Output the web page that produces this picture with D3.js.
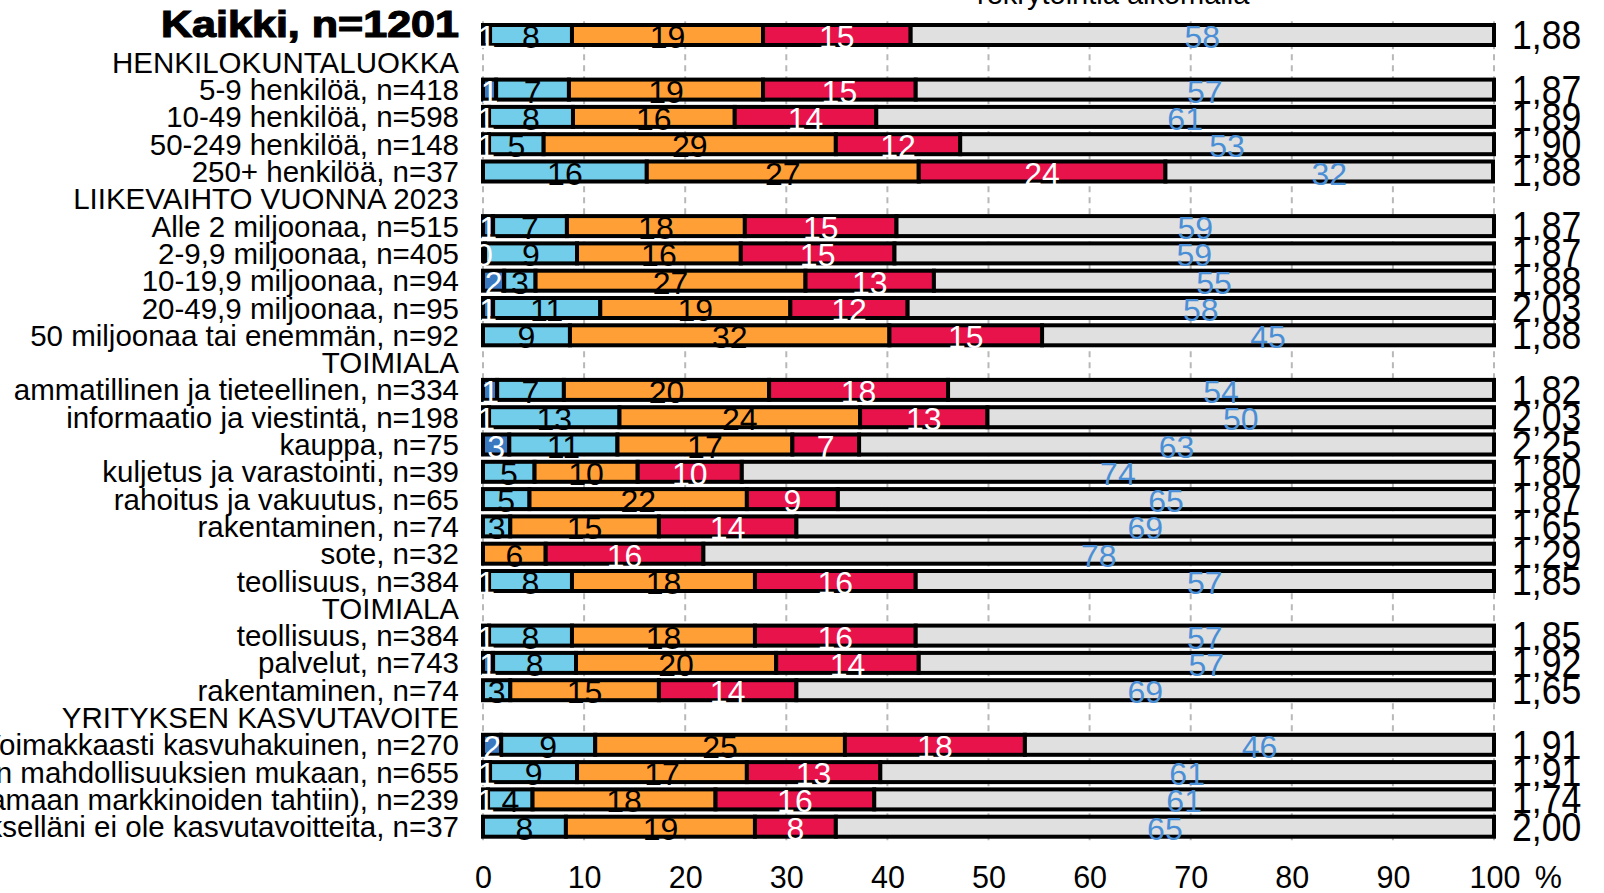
<!DOCTYPE html>
<html><head><meta charset="utf-8">
<script src="https://cdn.jsdelivr.net/npm/d3@7"></script>
<style>body{margin:0;background:#fff;overflow:hidden}svg{display:block}</style>
</head><body>
<svg id="c" width="1604" height="893"></svg>
<script>
// ---------- DATA ----------
const rowLabels = [
  "Kaikki, n=1201",
  "HENKILOKUNTALUOKKA",
  "5-9 henkilöä, n=418",
  "10-49 henkilöä, n=598",
  "50-249 henkilöä, n=148",
  "250+ henkilöä, n=37",
  "LIIKEVAIHTO VUONNA 2023",
  "Alle 2 miljoonaa, n=515",
  "2-9,9 miljoonaa, n=405",
  "10-19,9 miljoonaa, n=94",
  "20-49,9 miljoonaa, n=95",
  "50 miljoonaa tai enemmän, n=92",
  "TOIMIALA",
  "ammatillinen ja tieteellinen, n=334",
  "informaatio ja viestintä, n=198",
  "kauppa, n=75",
  "kuljetus ja varastointi, n=39",
  "rahoitus ja vakuutus, n=65",
  "rakentaminen, n=74",
  "sote, n=32",
  "teollisuus, n=384",
  "TOIMIALA",
  "teollisuus, n=384",
  "palvelut, n=743",
  "rakentaminen, n=74",
  "YRITYKSEN KASVUTAVOITE",
  "Voimakkaasti kasvuhakuinen, n=270",
  "Kasvuhakuinen mahdollisuuksien mukaan, n=655",
  "Maltillinen (kasvamaan markkinoiden tahtiin), n=239",
  "Yritykselläni ei ole kasvutavoitteita, n=37"
];
// "total" = bold first row, "header" = group heading without bar, "row" = normal
const rowTypes = ["total","header","row","row","row","row","header","row","row","row","row","row",
  "header","row","row","row","row","row","row","row","row","header","row","row","row",
  "header","row","row","row","row"];

// series values (%), null = no segment
const seriesDarkBlue  = [0.7,null,1.3,0.6,0.6,null,null,1.0,0.2,2.1,1.0,null,null,1.4,0.6,2.6,null,null,null,null,0.6,null,0.6,1.0,null,null,1.8,0.7,0.5,null];
const seriesLightBlue = [8.1,null,7.2,8.3,5.4,16.2,null,7.3,9.1,3.1,10.6,8.6,null,6.6,12.9,10.7,5.1,4.6,2.7,null,8.2,null,8.2,8.2,2.7,null,9.3,8.6,4.4,8.2];
const seriesOrange    = [18.9,null,19.2,16.0,28.9,26.9,null,17.6,16.2,26.7,18.8,31.6,null,20.3,23.8,17.3,10.2,21.5,14.7,6.2,18.1,null,18.1,19.8,14.7,null,24.7,16.8,18.1,18.7];
const seriesRed       = [14.6,null,15.1,14.0,12.3,24.4,null,15.0,15.2,12.7,11.6,15.1,null,17.7,12.6,6.6,10.3,9.0,13.6,15.6,15.9,null,15.9,14.1,13.6,null,17.8,13.2,15.7,8.0];
const seriesGray      = [57.7,null,57.2,61.1,52.8,32.4,null,59.1,59.3,55.4,58.0,44.7,null,54.0,50.1,62.8,74.4,64.9,69.0,78.2,57.2,null,57.2,56.9,69.0,null,46.4,60.7,61.3,65.1];

const meanLabels = ["1,88",null,"1,87","1,89","1,90","1,88",null,"1,87","1,87","1,88","2,03","1,88",null,
  "1,82","2,03","2,25","1,80","1,87","1,65","1,29","1,85",null,"1,85","1,92","1,65",null,"1,91","1,91","1,74","2,00"];

const xTicks = [0,10,20,30,40,50,60,70,80,90,100];
const topTitle = "rekrytointia aikomalla";

// ---------- STYLE ----------
const seriesList = [seriesDarkBlue, seriesLightBlue, seriesOrange, seriesRed, seriesGray];
const fills = ["#3a78bf","#72cdea","#ff9f35","#e8134b","#e0e0e0"];
const textFills = ["#ffffff","#000000","#000000","#ffffff","#4a8fd6"];
const FONT = "'Liberation Sans', Arial, sans-serif";

const svg = d3.select("#c");
const x = d3.scaleLinear().domain([0,100]).range([483,1494]);
const y = d3.scaleBand().domain(d3.range(rowLabels.length)).range([21.35, 840.35]).paddingInner(0).paddingOuter(0);
const barH = 20;
const cy = i => y(i) + y.bandwidth()/2;

// top (cut) title
svg.append("text").attr("x", 977).attr("y", 4).attr("font-family", FONT).attr("font-size", 29)
  .attr("fill","#000").text(topTitle);

// gridlines
svg.append("g").selectAll("line").data(xTicks).join("line")
  .attr("x1", d=>x(d)).attr("x2", d=>x(d))
  .attr("y1", y.range()[0]).attr("y2", y.range()[1])
  .attr("stroke","#b8b8b8").attr("stroke-width",2).attr("stroke-dasharray","6,5");

// bars
const rows = d3.range(rowLabels.length).filter(i => rowTypes[i] !== "header");
rows.forEach(i => {
  let acc = 0;
  const segs = [];
  seriesList.forEach((s,k) => {
    const v = s[i];
    if (v === null || v === undefined) return;
    segs.push({k, x0: acc, x1: acc + v, v});
    acc += v;
  });
  const g = svg.append("g");
  g.selectAll("rect").data(segs).join("rect")
    .attr("x", d => x(d.x0)).attr("width", d => x(d.x1) - x(d.x0))
    .attr("y", cy(i) - barH/2).attr("height", barH)
    .attr("fill", d => fills[d.k]).attr("stroke","#000").attr("stroke-width",4);
  g.selectAll("text").data(segs).join("text")
    .attr("x", d => x((d.x0 + d.x1)/2)).attr("y", cy(i) + 13)
    .attr("text-anchor","middle").attr("font-family", FONT).attr("font-size", 32)
    .attr("fill", d => textFills[d.k]).text(d => Math.round(d.v));
});

// row labels
svg.append("g").selectAll("text").data(rowLabels).join("text")
  .attr("x", 459)
  .attr("y", (d,i) => rowTypes[i] === "total" ? cy(i) + 2 : cy(i) + 10.5)
  .attr("text-anchor","end").attr("font-family", FONT)
  .attr("font-size", (d,i) => rowTypes[i] === "total" ? 37 : 29.5)
  .attr("font-weight", (d,i) => rowTypes[i] === "total" ? "bold" : "normal")
  .attr("stroke", (d,i) => rowTypes[i] === "total" ? "#000" : "none")
  .attr("stroke-width", 1.2)
  .each(function(d,i){ if (rowTypes[i] === "total") { d3.select(this).attr("textLength", 298).attr("lengthAdjust","spacingAndGlyphs"); } })
  .attr("fill","#000").text(d => d);

// mean labels on right
svg.append("g").selectAll("text").data(d3.range(rowLabels.length).filter(i => meanLabels[i])).join("text")
  .attr("transform", i => `translate(1512,${cy(i) + 14}) scale(0.89,1)`)
  .attr("font-family", FONT).attr("font-size", 40).attr("fill","#000")
  .text(i => meanLabels[i]);

// x axis labels
const axis = d3.axisBottom(x).tickValues(xTicks).tickSize(0).tickPadding(0)
  .tickFormat(d => d === 100 ? "100 %" : String(d));
const ag = svg.append("g").attr("transform","translate(0,866)").call(axis);
ag.select(".domain").remove();
ag.selectAll("text").attr("font-family", FONT).attr("font-size", 30.5).attr("fill","#000").attr("dy","0.71em");
ag.selectAll(".tick").filter(d => d === 100).select("text").attr("text-anchor","start").attr("x", -25)
  .attr("word-spacing", 6);
</script>
</body></html>
